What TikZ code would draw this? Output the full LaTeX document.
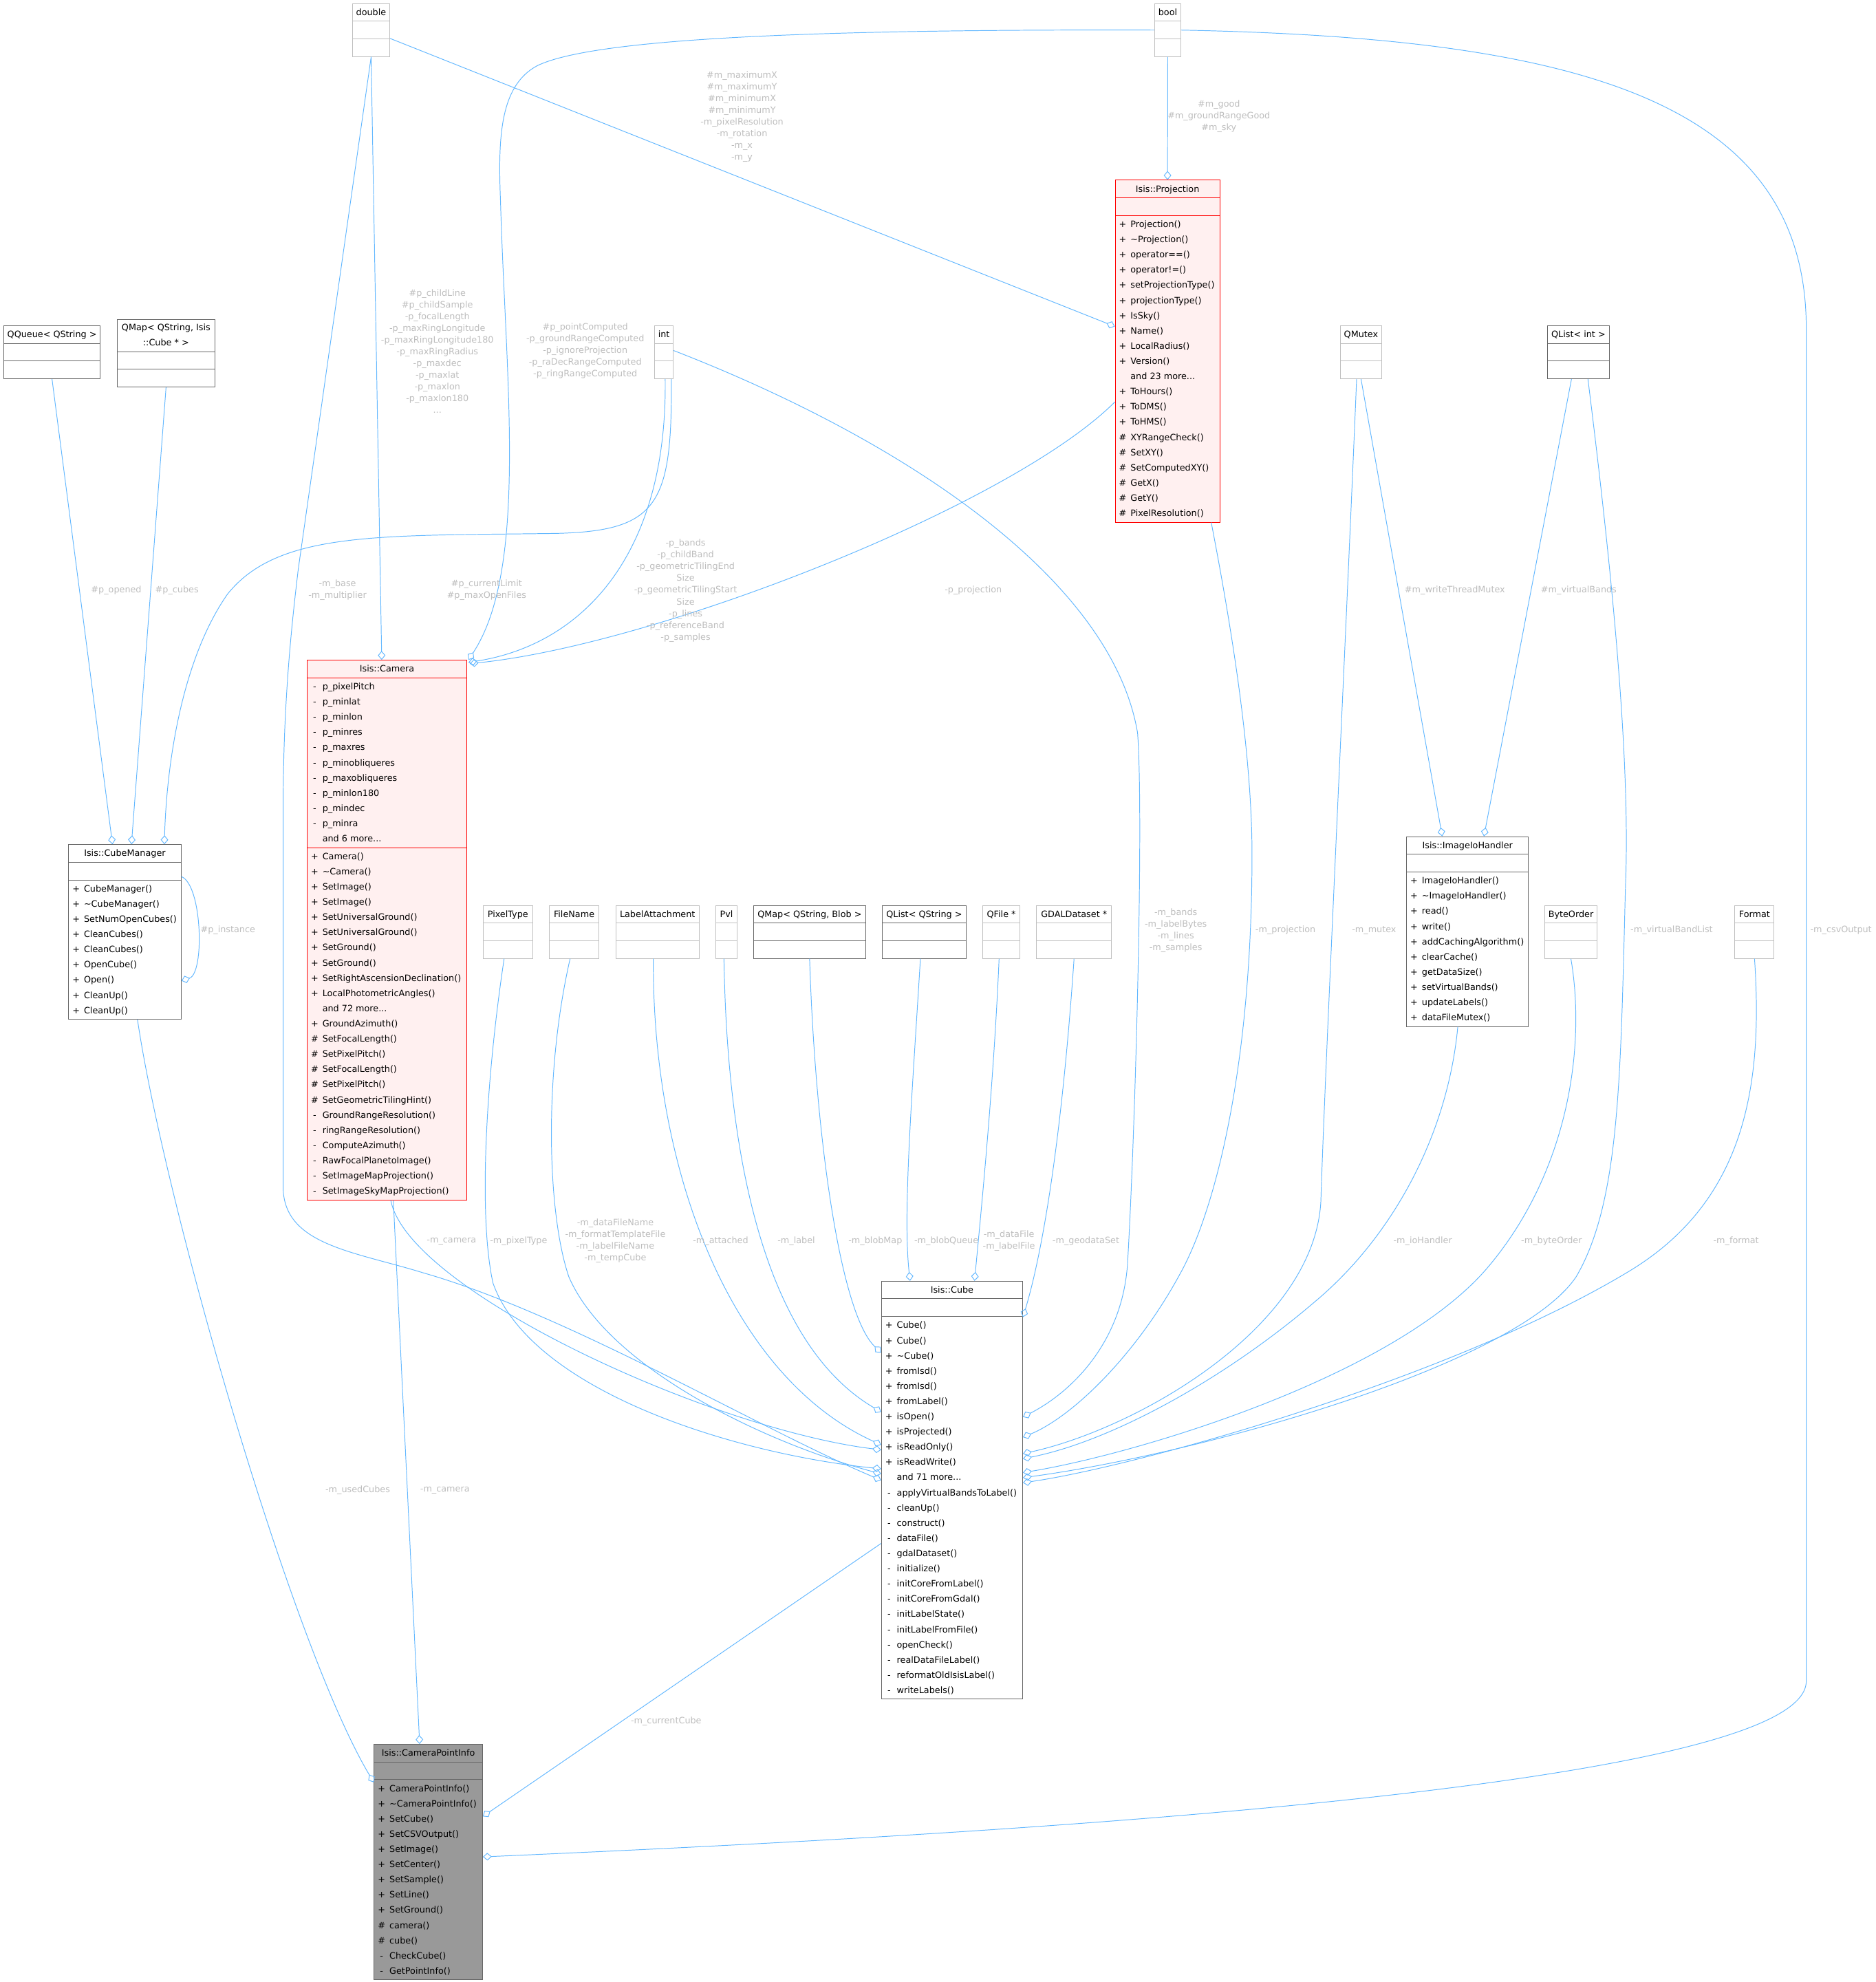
\documentclass[tikz,border=0pt]{standalone}
\usepackage{fontspec}
\setmainfont{DejaVu Sans}
\usetikzlibrary{shapes.multipart, arrows.meta, calc}
\definecolor{edgeblue}{HTML}{63B8FF}
\definecolor{lblgray}{HTML}{BEBEBE}
\definecolor{boxlight}{HTML}{BFBFBF}
\definecolor{boxdark}{HTML}{666666}
\definecolor{boxred}{HTML}{FF0000}
\definecolor{boxpink}{HTML}{FFF0F0}
\definecolor{boxgray}{HTML}{999999}
\newcommand{\boxfont}{\fontsize{9.9}{17.12}\selectfont}
\newcommand{\lblfont}{\fontsize{9.9}{13.2}\selectfont}
\newcommand{\mbr}[2]{\makebox[11pt][c]{#1}\hspace{3.3pt}#2\strut}

\begin{document}
\begin{tikzpicture}[x=0.05cm, y=-0.05cm,
    cls/.style={rectangle split, rectangle split parts=3, draw=boxdark, fill=white, line width=0.75pt,
      inner xsep=3pt, inner ysep=1pt, font=\boxfont, align=left,
      rectangle split part align={center,left,left}, anchor=north west},
    typ/.style={cls, draw=boxlight, align=center},
    tdark/.style={cls, align=center},
    trunc/.style={cls, draw=boxred, fill=boxpink},
    focus/.style={cls, fill=boxgray},
    boxw/.style={minimum width=#1*0.05cm},
    use/.style={draw=edgeblue, line width=0.75pt, -{Diamond[open, length=10pt, width=8.5pt]}},
    lbl/.style={font=\lblfont, text=lblgray, align=center, inner sep=0pt}]
  \path[fill=white] (0,0) rectangle (1484,1568);
  \useasboundingbox (0,0) rectangle (1484,1568);

  % plain types
  \node[typ, boxw=29.5] (tdouble) at (278.6,2.6) {double\strut\nodepart{two}\strut\nodepart{three}\strut};
  \node[typ, boxw=20.8] (tbool) at (913.2,2.6) {bool\strut\nodepart{two}\strut\nodepart{three}\strut};
  \node[tdark, boxw=76.2] (tqueue) at (2.8,257.5) {QQueue< QString >\strut\nodepart{two}\strut\nodepart{three}\strut};
  \node[tdark, boxw=77] (tcubemap) at (92.6,252.8) {\fontsize{9.9}{15.4}\selectfont QMap< QString, Isis\strut\\::Cube * >\strut\nodepart{two}\strut\nodepart{three}\strut};
  \node[typ, boxw=14.8] (tint) at (517.6,257.5) {int\strut\nodepart{two}\strut\nodepart{three}\strut};
  \node[typ, boxw=33] (tmutex) at (1060,257.5) {QMutex\strut\nodepart{two}\strut\nodepart{three}\strut};
  \node[tdark, boxw=49] (tintlist) at (1224,257.5) {QList< int >\strut\nodepart{two}\strut\nodepart{three}\strut};
  \node[typ, boxw=38.9] (tpixel) at (382.1,716.1) {PixelType\strut\nodepart{two}\strut\nodepart{three}\strut};
  \node[typ, boxw=39.5] (tfile) at (434.2,716.1) {FileName\strut\nodepart{two}\strut\nodepart{three}\strut};
  \node[typ, boxw=66] (tattach) at (486.9,716.1) {LabelAttachment\strut\nodepart{two}\strut\nodepart{three}\strut};
  \node[typ, boxw=16.8] (tpvl) at (566.1,716.1) {Pvl\strut\nodepart{two}\strut\nodepart{three}\strut};
  \node[tdark, boxw=89.1] (tblobmap) at (595.7,716.1) {QMap< QString, Blob >\strut\nodepart{two}\strut\nodepart{three}\strut};
  \node[tdark, boxw=66] (tstrlist) at (697.9,716.1) {QList< QString >\strut\nodepart{two}\strut\nodepart{three}\strut};
  \node[typ, boxw=29.7] (tqfile) at (777.1,716.1) {QFile *\strut\nodepart{two}\strut\nodepart{three}\strut};
  \node[typ, boxw=59.1] (tgdal) at (819.9,716.1) {GDALDataset *\strut\nodepart{two}\strut\nodepart{three}\strut};
  \node[typ, boxw=41.5] (tbyte) at (1221.8,716.1) {ByteOrder\strut\nodepart{two}\strut\nodepart{three}\strut};
  \node[typ, boxw=31] (tformat) at (1372.3,716.1) {Format\strut\nodepart{two}\strut\nodepart{three}\strut};

  % classes
  \node[trunc, boxw=82.8] (proj) at (882,142.3) {Isis::Projection\strut
    \nodepart{two}\strut
    \nodepart{three}\mbr{+}{Projection()}\\\mbr{+}{\textasciitilde Projection()}\\\mbr{+}{operator==()}\\
    \mbr{+}{operator!=()}\\\mbr{+}{setProjectionType()}\\\mbr{+}{projectionType()}\\\mbr{+}{IsSky()}\\
    \mbr{+}{Name()}\\\mbr{+}{LocalRadius()}\\\mbr{+}{Version()}\\\mbr{}{and 23 more...}\\
    \mbr{+}{ToHours()}\\\mbr{+}{ToDMS()}\\\mbr{+}{ToHMS()}\\\mbr{\#}{XYRangeCheck()}\\\mbr{\#}{SetXY()}\\
    \mbr{\#}{SetComputedXY()}\\\mbr{\#}{GetX()}\\\mbr{\#}{GetY()}\\\mbr{\#}{PixelResolution()}};
  \node[trunc, boxw=126.4] (cam) at (242.7,522) {Isis::Camera\strut
    \nodepart{two}\mbr{-}{p\_pixelPitch}\\\mbr{-}{p\_minlat}\\\mbr{-}{p\_minlon}\\\mbr{-}{p\_minres}\\
    \mbr{-}{p\_maxres}\\\mbr{-}{p\_minobliqueres}\\\mbr{-}{p\_maxobliqueres}\\\mbr{-}{p\_minlon180}\\
    \mbr{-}{p\_mindec}\\\mbr{-}{p\_minra}\\\mbr{}{and 6 more...}
    \nodepart{three}\mbr{+}{Camera()}\\\mbr{+}{\textasciitilde Camera()}\\\mbr{+}{SetImage()}\\\mbr{+}{SetImage()}\\
    \mbr{+}{SetUniversalGround()}\\\mbr{+}{SetUniversalGround()}\\\mbr{+}{SetGround()}\\\mbr{+}{SetGround()}\\
    \mbr{+}{SetRightAscensionDeclination()}\\\mbr{+}{LocalPhotometricAngles()}\\\mbr{}{and 72 more...}\\
    \mbr{+}{GroundAzimuth()}\\\mbr{\#}{SetFocalLength()}\\\mbr{\#}{SetPixelPitch()}\\\mbr{\#}{SetFocalLength()}\\
    \mbr{\#}{SetPixelPitch()}\\\mbr{\#}{SetGeometricTilingHint()}\\\mbr{-}{GroundRangeResolution()}\\
    \mbr{-}{ringRangeResolution()}\\\mbr{-}{ComputeAzimuth()}\\\mbr{-}{RawFocalPlanetoImage()}\\
    \mbr{-}{SetImageMapProjection()}\\\mbr{-}{SetImageSkyMapProjection()}};
  \node[cls, boxw=89] (cm) at (54,667.9) {Isis::CubeManager\strut
    \nodepart{two}\strut
    \nodepart{three}\mbr{+}{CubeManager()}\\\mbr{+}{\textasciitilde CubeManager()}\\\mbr{+}{SetNumOpenCubes()}\\
    \mbr{+}{CleanCubes()}\\\mbr{+}{CleanCubes()}\\\mbr{+}{OpenCube()}\\\mbr{+}{Open()}\\
    \mbr{+}{CleanUp()}\\\mbr{+}{CleanUp()}};
  \node[cls, boxw=96.5] (iih) at (1112.5,661.6) {Isis::ImageIoHandler\strut
    \nodepart{two}\strut
    \nodepart{three}\mbr{+}{ImageIoHandler()}\\\mbr{+}{\textasciitilde ImageIoHandler()}\\\mbr{+}{read()}\\
    \mbr{+}{write()}\\\mbr{+}{addCachingAlgorithm()}\\\mbr{+}{clearCache()}\\\mbr{+}{getDataSize()}\\
    \mbr{+}{setVirtualBands()}\\\mbr{+}{updateLabels()}\\\mbr{+}{dataFileMutex()}};
  \node[cls, boxw=111.7] (cube) at (697.1,1013.3) {Isis::Cube\strut
    \nodepart{two}\strut
    \nodepart{three}\mbr{+}{Cube()}\\\mbr{+}{Cube()}\\\mbr{+}{\textasciitilde Cube()}\\\mbr{+}{fromIsd()}\\
    \mbr{+}{fromIsd()}\\\mbr{+}{fromLabel()}\\\mbr{+}{isOpen()}\\\mbr{+}{isProjected()}\\
    \mbr{+}{isReadOnly()}\\\mbr{+}{isReadWrite()}\\\mbr{}{and 71 more...}\\
    \mbr{-}{applyVirtualBandsToLabel()}\\\mbr{-}{cleanUp()}\\\mbr{-}{construct()}\\\mbr{-}{dataFile()}\\
    \mbr{-}{gdalDataset()}\\\mbr{-}{initialize()}\\\mbr{-}{initCoreFromLabel()}\\\mbr{-}{initCoreFromGdal()}\\
    \mbr{-}{initLabelState()}\\\mbr{-}{initLabelFromFile()}\\\mbr{-}{openCheck()}\\
    \mbr{-}{realDataFileLabel()}\\\mbr{-}{reformatOldIsisLabel()}\\\mbr{-}{writeLabels()}};
  \node[focus, boxw=85.8] (cpi) at (295.7,1379.7) {Isis::CameraPointInfo\strut
    \nodepart{two}\strut
    \nodepart{three}\mbr{+}{CameraPointInfo()}\\\mbr{+}{\textasciitilde CameraPointInfo()}\\\mbr{+}{SetCube()}\\
    \mbr{+}{SetCSVOutput()}\\\mbr{+}{SetImage()}\\\mbr{+}{SetCenter()}\\\mbr{+}{SetSample()}\\
    \mbr{+}{SetLine()}\\\mbr{+}{SetGround()}\\\mbr{\#}{camera()}\\\mbr{\#}{cube()}\\
    \mbr{-}{CheckCube()}\\\mbr{-}{GetPointInfo()}};

  % members of Camera
  \draw[use] (tdouble.south) -- ($(cam.north west)+(59.3,0)$);
  \draw[use] (tbool.west) .. controls (650,23) and (470,30) .. (425,52) .. controls (395,68) and (394,110) .. (396,160)
    .. controls (400,300) and (418,450) .. ($(cam.north east)+(1,0)$);
  \draw[use] ($(tint.south)+(1,0)$) .. controls (528,440) and (460,510) .. ($(cam.north east)+(1,2)$);
  \draw[use] ($(proj.north west)+(0,175.7)$) .. controls (800,400) and (520,510) .. ($(cam.north east)+(2,3)$);
  \node[lbl] (lchild) at (346,277.9) {\#p\_childLine\\\#p\_childSample\\-p\_focalLength\\-p\_maxRingLongitude\\
    -p\_maxRingLongitude180\\-p\_maxRingRadius\\-p\_maxdec\\-p\_maxlat\\-p\_maxlon\\-p\_maxlon180\\...};
  \node[lbl] (lpoint) at (463,277.5) {\#p\_pointComputed\\-p\_groundRangeComputed\\-p\_ignoreProjection\\
    -p\_raDecRangeComputed\\-p\_ringRangeComputed};
  \node[lbl] (lbands) at (542.4,467.3) {-p\_bands\\-p\_childBand\\-p\_geometricTilingEnd\\Size\\
    -p\_geometricTilingStart\\Size\\-p\_lines\\-p\_referenceBand\\-p\_samples};
  \node[lbl] (lproj) at (770,467) {-p\_projection};

  % members of Projection
  \draw[use] ($(tdouble.east)+(0,6.6)$) -- ($(proj.north west)+(0,116)$);
  \draw[use] (tbool.south) -- (proj.north);
  \node[lbl] (lmax) at (587,92.3) {\#m\_maximumX\\\#m\_maximumY\\\#m\_minimumX\\\#m\_minimumY\\
    -m\_pixelResolution\\-m\_rotation\\-m\_x\\-m\_y};
  \node[lbl] (lgood) at (964.3,92.2) {\#m\_good\\\#m\_groundRangeGood\\\#m\_sky};

  % members of CubeManager
  \draw[use] (tqueue.south) -- ($(cm.north west)+(35,0)$);
  \draw[use] (tcubemap.south) -- ($(cm.north west)+(50,0)$);
  \draw[use] ($(tint.south)+(5.8,0)$) .. controls (532,400) and (520,420) .. (440,422)
    .. controls (300,424) and (220,420) .. (180,470) .. controls (145,520) and (132,600) .. ($(cm.north west)+(76,0)$);
  \draw[use] ($(cm.north east)+(0,25.6)$) .. controls (160,700) and (162,770) .. ($(cm.north east)+(0,108)$);
  \node[lbl] (lopened) at (92,467) {\#p\_opened};
  \node[lbl] (lcubes) at (140,467) {\#p\_cubes};
  \node[lbl] (llimit) at (385,467) {\#p\_currentLimit\\\#p\_maxOpenFiles};
  \node[lbl] (linst) at (180.3,736.1) {\#p\_instance};

  % members of ImageIoHandler
  \draw[use] (tmutex.south) -- ($(iih.north west)+(28.5,0)$);
  \draw[use] ($(tintlist.south)+(-5.5,0)$) -- ($(iih.north west)+(61.5,0)$);
  \node[lbl] (lwrite) at (1151,467) {\#m\_writeThreadMutex};
  \node[lbl] (lvirt) at (1249,467) {\#m\_virtualBands};

  % members of Cube, left side
  \draw[use] (tdouble.south) -- (236,450) .. controls (230,500) and (224,560) .. (224,640) -- (224,940)
    .. controls (225,985) and (280,990) .. (335,1007) .. controls (450,1040) and (600,1130) .. ($(cube.north west)+(0,157.7)$);
  \draw[use] ($(cam.south)+(3,0)$) .. controls (322,1020) and (560,1130) .. ($(cube.north west)+(0,133.7)$);
  \draw[use] ($(tpixel.south)+(-3,0)$) .. controls (385,850) and (378,960) .. (390,1015)
    .. controls (420,1100) and (580,1150) .. ($(cube.north west)+(0,148.7)$);
  \draw[use] ($(tfile.south)+(-3.2,0)$) .. controls (430,850) and (433,960) .. (450,1010)
    .. controls (480,1080) and (600,1140) .. ($(cube.north west)+(0,152.7)$);
  \draw[use] ($(tattach.south)+(-3.3,0)$) .. controls (516,930) and (580,1090) .. ($(cube.north west)+(0,129.7)$);
  \draw[use] ($(tpvl.south)+(-2,0)$) .. controls (575,900) and (600,1060) .. ($(cube.north west)+(0,103.7)$);
  \draw[use] (tblobmap.south) .. controls (645,900) and (665,1040) .. ($(cube.north west)+(0,56.7)$);
  \draw[use] ($(tstrlist.south)+(-3,0)$) .. controls (722,860) and (714,960) .. ($(cube.north west)+(22.9,0)$);
  \draw[use] ($(tqfile.south)+(-1.8,0)$) .. controls (786,860) and (776,960) .. ($(cube.north west)+(73.9,0)$);
  \node[lbl] (lbase) at (267,467) {-m\_base\\-m\_multiplier};
  \node[lbl] (lcamera) at (357.2,981.9) {-m\_camera};
  \node[lbl] (lpixel) at (410.3,981.9) {-m\_pixelType};
  \node[lbl] (lfname) at (486.8,981.8) {-m\_dataFileName\\-m\_formatTemplateFile\\-m\_labelFileName\\-m\_tempCube};
  \node[lbl] (lattach) at (570.1,981.9) {-m\_attached};
  \node[lbl] (llabel) at (630,981.9) {-m\_label};
  \node[lbl] (lblob) at (692.5,981.9) {-m\_blobMap};
  \node[lbl] (lqueue) at (748.7,981.9) {-m\_blobQueue};
  \node[lbl] (ldata) at (798.2,981.8) {-m\_dataFile\\-m\_labelFile};

  % members of Cube, right side
  \draw[use] (tgdal.south) .. controls (840,900) and (825,990) .. ($(cube.north east)+(0,28.7)$);
  \draw[use] ($(tint.east)+(0,-1.4)$) .. controls (720,350) and (880,460) .. (900,580)
    .. controls (905,650) and (898,900) .. (892,1000) .. controls (888,1060) and (850,1100) .. ($(cube.north east)+(0,107.7)$);
  \draw[use] ($(proj.south)+(34.6,0)$) .. controls (975,500) and (991,600) .. (990.5,680)
    .. controls (990,850) and (960,960) .. (934,1007) .. controls (900,1070) and (850,1120) .. ($(cube.north east)+(0,123.7)$);
  \draw[use] ($(tmutex.south)+(-3.5,0)$) .. controls (1065,500) and (1048,850) .. (1045,950)
    .. controls (1040,1050) and (900,1130) .. ($(cube.north east)+(0,136.7)$);
  \draw[use] ($(iih.south)+(-7.7,0)$) .. controls (1145,900) and (1100,980) .. (1040,1030)
    .. controls (970,1090) and (880,1140) .. ($(cube.north east)+(0,140.7)$);
  \draw[use] (tbyte.south) .. controls (1255,830) and (1240,930) .. (1175,1005)
    .. controls (1100,1090) and (900,1150) .. ($(cube.north east)+(0,151.7)$);
  \draw[use] ($(tintlist.south)+(7.5,0)$) .. controls (1275,450) and (1290,600) .. (1286,700)
    .. controls (1282,850) and (1282,950) .. (1247,1010) .. controls (1200,1080) and (950,1150) .. ($(cube.north east)+(0,155.7)$);
  \draw[use] (tformat.south) .. controls (1395,860) and (1380,950) .. (1290,1005)
    .. controls (1150,1090) and (900,1160) .. ($(cube.north east)+(0,159.7)$);
  \node[lbl] (lgdal) at (859.1,981.9) {-m\_geodataSet};
  \node[lbl] (lmbands) at (930.2,736.3) {-m\_bands\\-m\_labelBytes\\-m\_lines\\-m\_samples};
  \node[lbl] (lmproj) at (1017,736) {-m\_projection};
  \node[lbl] (lmutex) at (1087.1,736) {-m\_mutex};
  \node[lbl] (lvlist) at (1322.5,736) {-m\_virtualBandList};
  \node[lbl] (lio) at (1125.6,981.8) {-m\_ioHandler};
  \node[lbl] (lbyte) at (1227.5,981.8) {-m\_byteOrder};
  \node[lbl] (lformat) at (1373.5,981.8) {-m\_format};

  % members of CameraPointInfo
  \draw[use] ($(cm.south)+(10,0)$) .. controls (130,950) and (230,1300) .. ($(cpi.north west)+(0,30.3)$);
  \draw[use] ($(cam.south)+(5,0)$) -- ($(cpi.north west)+(36.3,0)$);
  \draw[use] ($(cube.north west)+(0,207.7)$) -- ($(cpi.north east)+(0,57.3)$);
  \draw[use] (tbool.east) .. controls (1250,30) and (1429,80) .. (1429,260) -- (1429,1330)
    .. controls (1429,1420) and (700,1455) .. ($(cpi.north east)+(0,89.3)$);
  \node[lbl] (lused) at (283,1179) {-m\_usedCubes};
  \node[lbl] (lcam2) at (352,1179) {-m\_camera};
  \node[lbl] (lcur) at (527,1362) {-m\_currentCube};
  \node[lbl] (lcsv) at (1456.5,736) {-m\_csvOutput};
\end{tikzpicture}
\end{document}
